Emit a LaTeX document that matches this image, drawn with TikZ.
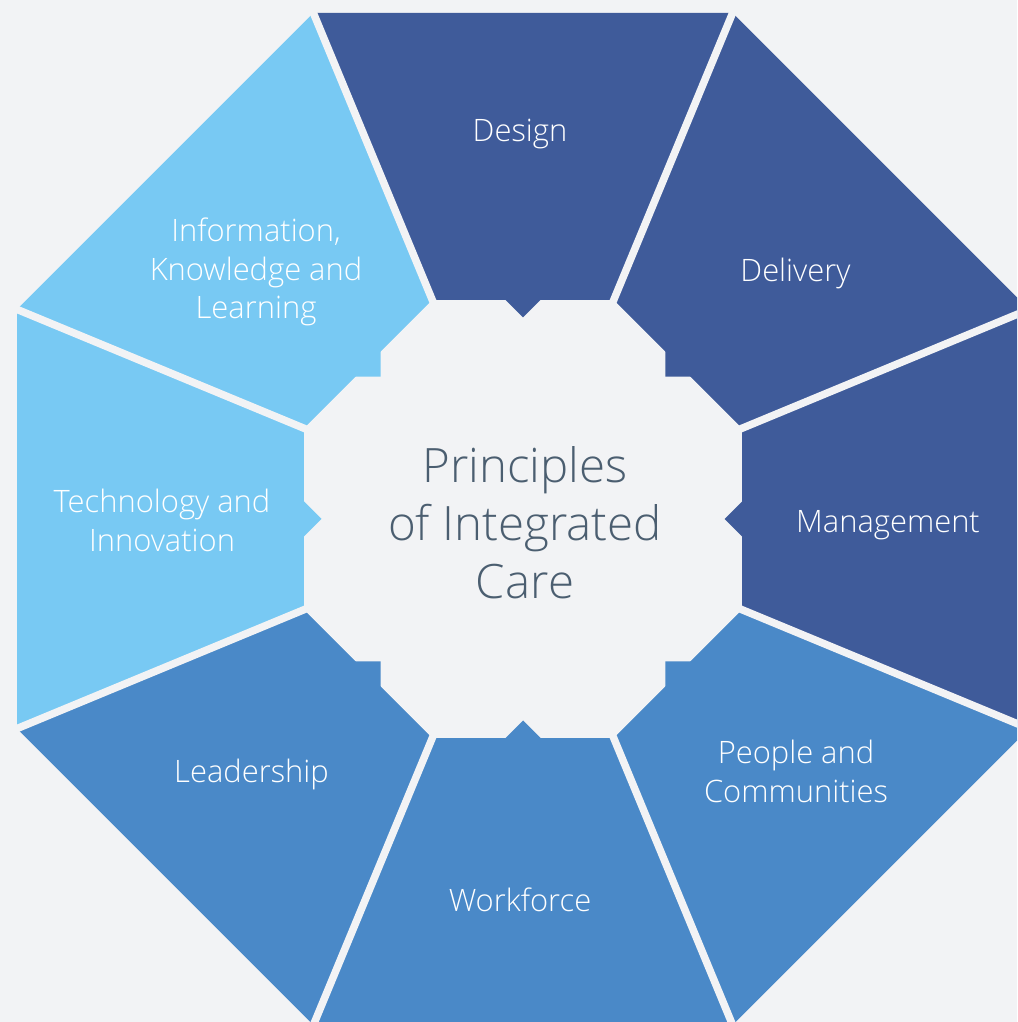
\documentclass[tikz,border=0pt]{standalone}
\usepackage{fontspec}
\setmainfont{Open Sans}[UprightFont={* Light}]
\usetikzlibrary{calc}

\definecolor{pagebg}{HTML}{F2F3F5}
\definecolor{darkseg}{HTML}{3F5B9A}
\definecolor{midseg}{HTML}{4A89C8}
\definecolor{lightseg}{HTML}{78C9F3}
\definecolor{titleink}{HTML}{4B5E70}

\begin{document}
\begin{tikzpicture}[x=1pt,y=1pt,
  seglabel/.style={text=white, inner sep=0pt, align=center,
    font=\fontsize{30.9}{38.5}\selectfont},
  titlelabel/.style={text=titleink, inner sep=0pt, align=center,
    font=\fontsize{47.4}{58}\selectfont},
  gap/.style={pagebg, line width=7.5}]

% page
\fill[pagebg] (0,0) rectangle (1017,1022);
\useasboundingbox (0,0) rectangle (1017,1022);

\coordinate (C) at (523,503);

\begin{scope}
  \clip (0,0) rectangle (1017,1022);
  % eight wedges of the outer octagon
  \foreach \ang/\col in {90/darkseg, 45/darkseg, 0/darkseg,
                         -45/midseg, -90/midseg, -135/midseg,
                         180/lightseg, 135/lightseg}{
    \fill[\col] (C) -- ($(C)+(\ang-22.5:547.7)$)
                    -- ($(C)+(\ang+22.5:547.7)$) -- cycle;
  }
  % separating gaps
  \foreach \ang in {22.5,67.5,...,337.5}
    \draw[gap] (C) -- ($(C)+(\ang:570)$);
  % central octagon
  \fill[pagebg] ($(C)+(22.5:237)$)
    \foreach \a in {67.5,112.5,...,337.5}{ -- ($(C)+(\a:237)$) } -- cycle;
  % inward tabs of the wedges
  \foreach \ang/\col in {90/darkseg, 45/darkseg, 0/darkseg,
                         -45/midseg, -90/midseg, -135/midseg,
                         180/lightseg, 135/lightseg}{
    \fill[\col] ($(C)+(\ang:222)+(\ang+90:20.5)$)
             -- ($(C)+(\ang:222)+(\ang-90:20.5)$)
             -- ($(C)+(\ang:201.5)$) -- cycle;
  }
\end{scope}

% labels
\node[seglabel] (design)     at (520,888)   {Design};
\node[seglabel] (delivery)   at (795.5,749) {Delivery};
\node[seglabel] (management) at (888,496.5) {Management};
\node[seglabel] (people)     at (796,250.5) {People and\\Communities};
\node[seglabel] (workforce)  at (520,122)   {Workforce};
\node[seglabel] (leadership) at (251.5,248) {Leadership};
\node[seglabel] (technology) at (162,501.5) {Technology and\\Innovation};
\node[seglabel] (information) at (256,750)  {Information,\\Knowledge and\\Learning};
\node[titlelabel] (title)    at (525,499)   {Principles\\of Integrated\\Care};
\end{tikzpicture}
\end{document}
